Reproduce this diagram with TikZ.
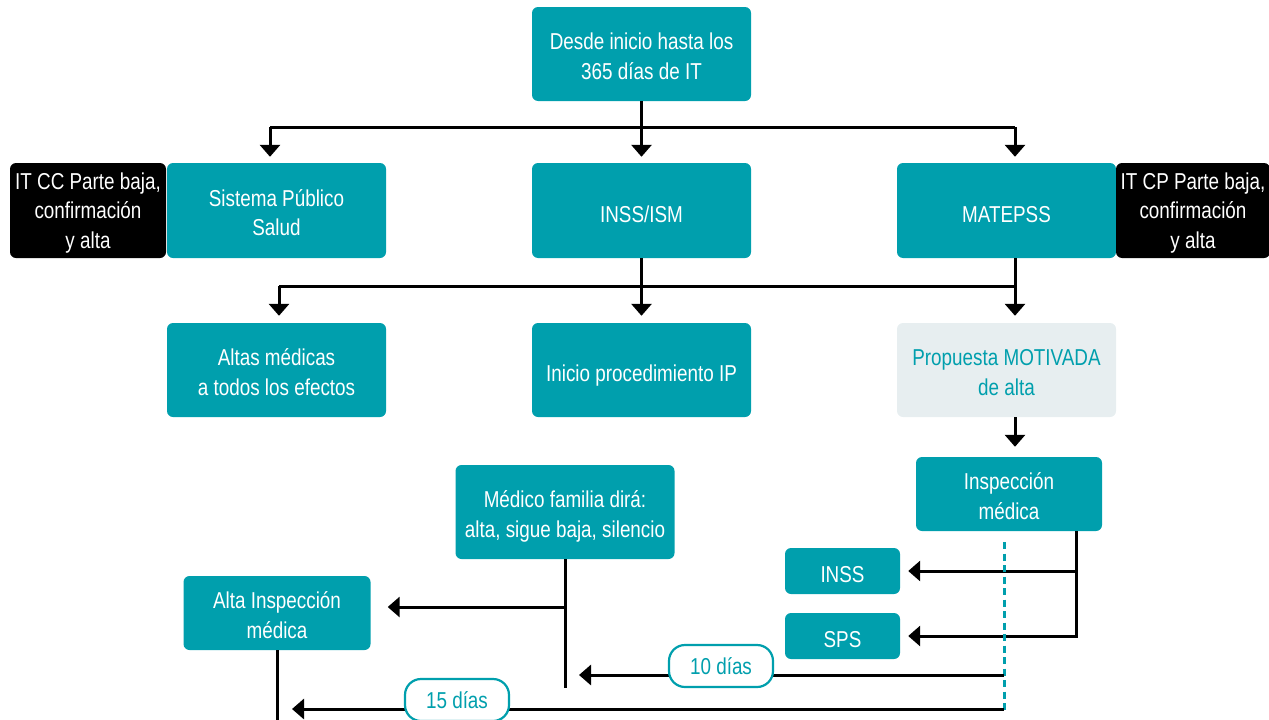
\documentclass[tikz,border=0pt]{standalone}
\usepackage{fontspec}
\setmainfont[FakeStretch=0.82]{Liberation Sans}
\usetikzlibrary{arrows.meta}
\definecolor{tealc}{RGB}{0,159,173}
\definecolor{palec}{RGB}{231,238,240}
\newcommand\boxfont{\fontsize{23}{29.5}\selectfont}
\tikzset{
  % fixed text box dimensions so that lines sit at the same place in every box
  boxbase/.style={rounded corners=6pt, align=center, inner sep=0pt, font=\boxfont,
    text depth=5.5pt},
  oneline/.style={text height=28.5pt},
  twolines/.style={text height=55.5pt},
  threelines/.style={text height=80.5pt},
  tealbox/.style={boxbase, fill=tealc, text=white},
  palebox/.style={boxbase, fill=palec, text=tealc},
  darkbox/.style={boxbase, fill=black, text=white},
  pill/.style={fill=white, draw=tealc, line width=2.2pt, text=tealc,
    rounded corners=16pt, minimum width=104pt, minimum height=42pt,
    inner sep=0pt, font=\boxfont},
  wire/.style={draw=black, line width=3pt},
  arrowwire/.style={wire, -{Triangle[width=20pt,length=12pt]}},
  dashwire/.style={draw=tealc, line width=3pt, dash pattern=on 7pt off 4.5pt}
}
\begin{document}
\begin{tikzpicture}[x=1pt,y=-1pt]
\useasboundingbox (0,0) rectangle (1269,720);

% first level
\node[tealbox, twolines, minimum width=219pt, minimum height=94pt] (top) at (641.5,54) {Desde inicio hasta los\\365 días de IT};

% second level
\node[darkbox, threelines, minimum width=156pt, minimum height=95pt] (itcc) at (88,210.5) {IT CC Parte baja,\\confirmación\\y alta};
\node[tealbox, twolines, minimum width=219pt, minimum height=95pt] (sps) at (276.5,210.5) {Sistema Público\\Salud};
\node[tealbox, oneline, minimum width=219pt, minimum height=95pt] (inssism) at (641.5,210.5) {INSS/ISM};
\node[tealbox, oneline, minimum width=219pt, minimum height=95pt] (mat) at (1006.5,210.5) {MATEPSS};
\node[darkbox, threelines, minimum width=154pt, minimum height=95pt] (itcp) at (1193,210.5) {IT CP Parte baja,\\confirmación\\y alta};

% third level
\node[tealbox, twolines, minimum width=219pt, minimum height=94pt] (altas) at (276.5,370) {Altas médicas\\a todos los efectos};
\node[tealbox, oneline, minimum width=219pt, minimum height=94pt] (ip) at (641.5,370) {Inicio procedimiento IP};
\node[palebox, twolines, minimum width=219pt, minimum height=94pt] (prop) at (1006.5,370) {Propuesta MOTIVADA\\de alta};

% lower part
\node[tealbox, twolines, minimum width=186pt, minimum height=74pt] (insp) at (1009,494) {Inspección\\médica};
\node[tealbox, twolines, minimum width=219pt, minimum height=94pt] (med) at (565,512) {Médico familia dirá:\\alta, sigue baja, silencio};
\node[tealbox, twolines, minimum width=187pt, minimum height=74pt] (alta) at (277,613) {Alta Inspección\\médica};
\node[tealbox, oneline, minimum width=115pt, minimum height=46pt] (inssb) at (842.5,571) {INSS};
\node[tealbox, oneline, minimum width=115pt, minimum height=46pt] (spsb) at (842.5,636) {SPS};

% junction points
\coordinate (b1L) at (270,127);
\coordinate (b1R) at (1015,127);
\coordinate (b2L) at (279,286);
\coordinate (b2R) at (1015,286);
\coordinate (ib) at (1076,531);
\coordinate (d1) at (1004,542);
\coordinate (d2) at (1004,710);
\coordinate (t10) at (1004,675);
\coordinate (t15) at (1004,709);
\coordinate (mb) at (565,607);
\coordinate (medend) at (565,688);
\coordinate (altaend) at (277,730);

% top fan-out
\draw[wire] (b1L) -- (b1R);
\draw[wire] (top.south) -- (top.south |- b1L);
\draw[arrowwire, shorten >=6pt] (b1L) -- (b1L |- sps.north);
\draw[arrowwire, shorten >=6pt] (top.south |- b1L) -- (inssism.north);
\draw[arrowwire, shorten >=6pt] (b1R) -- (b1R |- mat.north);

% second fan-out
\draw[wire] (b2L) -- (b2R);
\draw[wire] (inssism.south) -- (inssism.south |- b2L);
\draw[wire] (b2R |- mat.south) -- (b2R);
\draw[arrowwire, shorten >=7pt] (b2L) -- (b2L |- altas.north);
\draw[arrowwire, shorten >=7pt] (inssism.south |- b2L) -- (ip.north);
\draw[arrowwire, shorten >=7pt] (b2R) -- (b2R |- prop.north);

% proposal to inspection
\draw[arrowwire, shorten >=10pt] (b2R |- prop.south) -- (b2R |- insp.north);

% inspection to INSS and SPS
\draw[arrowwire, shorten >=8pt] (ib) |- (spsb.east);
\draw[arrowwire, shorten >=8pt] (ib |- inssb.east) -- (inssb.east);

% time limits
\draw[dashwire] (d1) -- (d2);
\draw[arrowwire, shorten >=14pt] (t10) -- (t10 -| med.south);
\draw[arrowwire, shorten >=15pt] (t15) -- (t15 -| alta.south);

% family doctor
\draw[wire] (med.south) -- (medend);
\draw[arrowwire, shorten >=17pt] (mb) -- (mb -| alta.east);
\draw[wire] (alta.south) -- (altaend);

% labels on the time lines
\node[pill] (p10) at (721,666) {10 días};
\node[pill] (p15) at (457,700) {15 días};
\end{tikzpicture}
\end{document}
